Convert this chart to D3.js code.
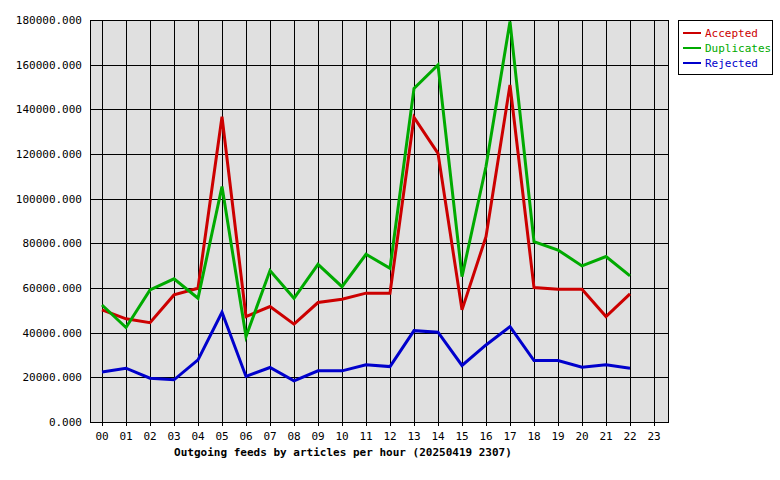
<!DOCTYPE html>
<html><head><meta charset="utf-8">
<script src="https://cdn.jsdelivr.net/npm/d3@7"></script>
<style>body{margin:0;background:#fff}text{font-family:"DejaVu Sans Mono",monospace;font-size:11px}</style>
</head><body>
<script>
var hours = d3.range(24).map(function (h) { return (h < 10 ? "0" : "") + h; });
var accepted = [50200,46200,44500,56900,59900,136700,47200,51700,43800,53500,55000,57700,57700,136400,120300,50200,83000,150900,60200,59400,59400,47200,57400];
var duplicates = [52400,42300,59100,64100,55400,105400,38300,67800,55400,70600,60600,75100,68800,149400,159900,65100,114400,179300,80800,77000,69900,74100,65400];
var rejected = [22400,24100,19600,18900,27800,49100,20400,24400,18400,22900,22900,25600,24800,40900,40200,25300,34500,42700,27500,27500,24500,25600,24100];
var yTicks = d3.range(0, 180001, 20000);
var series = [
    {name: "Accepted", values: accepted, color: "#cc0000"},
    {name: "Duplicates", values: duplicates, color: "#00aa00"},
    {name: "Rejected", values: rejected, color: "#0000cc"}
];

var svg = d3.select("body").append("svg").attr("width", 780).attr("height", 480);
var pLeft = 90, pRight = 668, pTop = 20, pBottom = 422;

var x = d3.scalePoint().domain(hours).range([102, 654]);
var y = d3.scaleLinear().domain([0, 180000]).range([pBottom, pTop]);

svg.append("rect").attr("x", pLeft + 0.5).attr("y", pTop + 0.5).attr("width", pRight - pLeft).attr("height", pBottom - pTop)
    .attr("fill", "#e0e0e0").attr("stroke", "black");

//grid
svg.selectAll(".hg").data(yTicks).enter().append("line")
    .attr("x1", pLeft).attr("x2", pRight)
    .attr("y1", function (d) { return Math.round(y(d)) + 0.5; })
    .attr("y2", function (d) { return Math.round(y(d)) + 0.5; })
    .attr("stroke", "black");
svg.selectAll(".vg").data(hours).enter().append("line")
    .attr("x1", function (d) { return Math.round(x(d)) + 0.5; })
    .attr("x2", function (d) { return Math.round(x(d)) + 0.5; })
    .attr("y1", pTop).attr("y2", pBottom + 4)
    .attr("stroke", "black");

//axis labels
svg.selectAll(".yl").data(yTicks).enter().append("text")
    .attr("x", pLeft - 8).attr("y", function (d) { return y(d) + 4; })
    .attr("text-anchor", "end")
    .text(function (d) { return d + ".000"; });
svg.selectAll(".xl").data(hours).enter().append("text")
    .attr("x", function (d) { return x(d); }).attr("y", 440)
    .attr("text-anchor", "middle")
    .text(function (d) { return d; });
svg.append("text").attr("x", 343).attr("y", 456).attr("text-anchor", "middle")
    .attr("font-weight", "bold")
    .text("Outgoing feeds by articles per hour (20250419 2307)");

//lines
var line = d3.line()
    .x(function (d, i) { return x(hours[i]); })
    .y(function (d) { return y(d); });
series.forEach(function (s) {
    svg.append("path").attr("d", line(s.values))
        .attr("fill", "none").attr("stroke", s.color).attr("stroke-width", 3);
});

//legend
svg.append("rect").attr("x", 678.5).attr("y", 20.5).attr("width", 94).attr("height", 54)
    .attr("fill", "white").attr("stroke", "black");
series.forEach(function (s, i) {
    var ly = 34 + i * 15;
    svg.append("line").attr("x1", 683).attr("x2", 701).attr("y1", ly - 1).attr("y2", ly - 1)
        .attr("stroke", s.color).attr("stroke-width", 2);
    svg.append("text").attr("x", 705).attr("y", ly + 3).attr("fill", s.color).text(s.name);
});
</script>
</body></html>
